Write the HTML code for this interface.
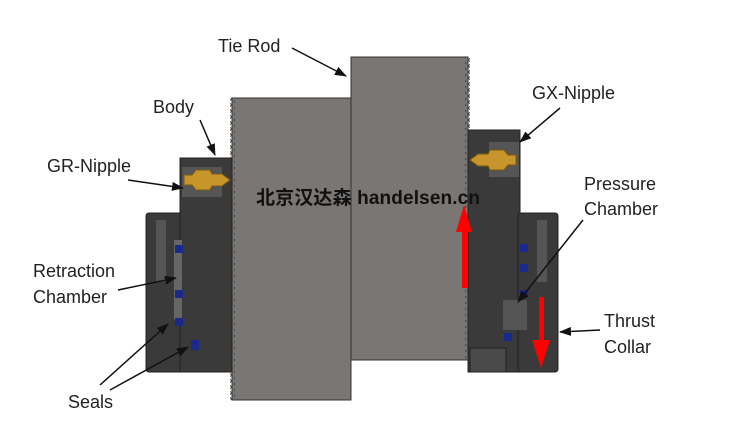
<!DOCTYPE html>
<html><head><style>
body{margin:0;background:#fff}
text{font-family:"Liberation Sans",sans-serif;font-size:18px;fill:#222}
</style></head><body>
<svg width="736" height="429" viewBox="0 0 736 429" xmlns="http://www.w3.org/2000/svg">
<defs>
<marker id="a" markerWidth="12" markerHeight="9" refX="11" refY="4.5" orient="auto" markerUnits="userSpaceOnUse"><path d="M0,0 L12,4.5 L0,9z" fill="#111"/></marker>
<pattern id="zz" width="6" height="6" patternUnits="userSpaceOnUse"><path d="M0,0 L4,3 L0,6" fill="none" stroke="#444" stroke-width="1"/></pattern>
</defs>
<!-- tie rod -->
<rect x="232" y="98" width="119" height="302" fill="#7a7673" stroke="#333"/>
<rect x="351" y="57" width="117" height="303" fill="#7a7673" stroke="#333"/>
<rect x="230" y="98" width="5" height="302" fill="url(#zz)"/>
<rect x="465" y="57" width="5" height="303" fill="url(#zz)"/>
<!-- left body -->
<rect x="146" y="213" width="40" height="159" rx="3" fill="#3a3a3a" stroke="#222"/>
<rect x="180" y="158" width="52" height="214" fill="#3a3a3a" stroke="#222"/>
<rect x="182" y="167" width="40" height="30" fill="#555"/>
<path d="M184,175 h8 l4,-5 h14 l2,4 h10 l8,6 l-8,6 h-10 l-2,4 h-14 l-4,-5 h-8z" fill="#c8952c" stroke="#7a5a10"/>
<rect x="156" y="220" width="10" height="62" fill="#555"/>
<rect x="174" y="240" width="8" height="80" fill="#666"/>
<rect x="175" y="245" width="8" height="8" fill="#1a2a8a"/><rect x="175" y="290" width="8" height="8" fill="#1a2a8a"/><rect x="175" y="318" width="8" height="8" fill="#1a2a8a"/><rect x="191" y="340" width="8" height="10" fill="#1a2a8a"/>
<!-- right body -->
<rect x="468" y="130" width="52" height="242" fill="#3a3a3a" stroke="#222"/>
<rect x="518" y="213" width="40" height="159" rx="3" fill="#3a3a3a" stroke="#222"/>
<rect x="489" y="142" width="30" height="35" fill="#555"/>
<path d="M516,155 h-8 l-4,-5 h-14 l-2,4 h-10 l-8,6 l8,6 h10 l2,4 h14 l4,-5 h8z" fill="#c8952c" stroke="#7a5a10"/>
<rect x="537" y="220" width="10" height="62" fill="#555"/>
<rect x="503" y="300" width="24" height="30" fill="#555"/>
<rect x="470" y="348" width="36" height="24" fill="#4a4a4a" stroke="#222"/>
<rect x="520" y="244" width="8" height="8" fill="#1a2a8a"/><rect x="520" y="264" width="8" height="8" fill="#1a2a8a"/><rect x="520" y="290" width="8" height="8" fill="#1a2a8a"/><rect x="504" y="333" width="8" height="8" fill="#1a2a8a"/>
<!-- red arrows -->
<rect x="462" y="230" width="5" height="58" fill="#f00"/><path d="M456,232 L464,205 L472,232z" fill="#f00"/>
<rect x="539" y="297" width="5" height="45" fill="#f00"/><path d="M532,340 L541,368 L550,340z" fill="#f00"/>
<!-- watermark -->
<text x="256" y="204" style="font-family:'Liberation Sans','Noto Sans CJK SC',sans-serif;font-size:19px;font-weight:bold;fill:#111" textLength="224">北京汉达森 handelsen.cn</text>
<!-- labels -->
<text x="218" y="52">Tie Rod</text>
<text x="153" y="113">Body</text>
<text x="47" y="172">GR-Nipple</text>
<text x="532" y="99">GX-Nipple</text>
<text x="584" y="190">Pressure</text>
<text x="584" y="215">Chamber</text>
<text x="33" y="277">Retraction</text>
<text x="33" y="303">Chamber</text>
<text x="604" y="327">Thrust</text>
<text x="604" y="353">Collar</text>
<text x="68" y="408">Seals</text>
<g stroke="#111" stroke-width="1.5" fill="none" marker-end="url(#a)">
<line x1="292" y1="48" x2="346" y2="76"/>
<line x1="200" y1="120" x2="215" y2="155"/>
<line x1="128" y1="180" x2="183" y2="188"/>
<line x1="560" y1="108" x2="520" y2="142"/>
<line x1="583" y1="220" x2="518" y2="302"/>
<line x1="600" y1="330" x2="560" y2="332"/>
<line x1="118" y1="290" x2="176" y2="278"/>
<line x1="100" y1="385" x2="168" y2="324"/>
<line x1="110" y1="390" x2="188" y2="347"/>
</g>
</svg>
</body></html>
